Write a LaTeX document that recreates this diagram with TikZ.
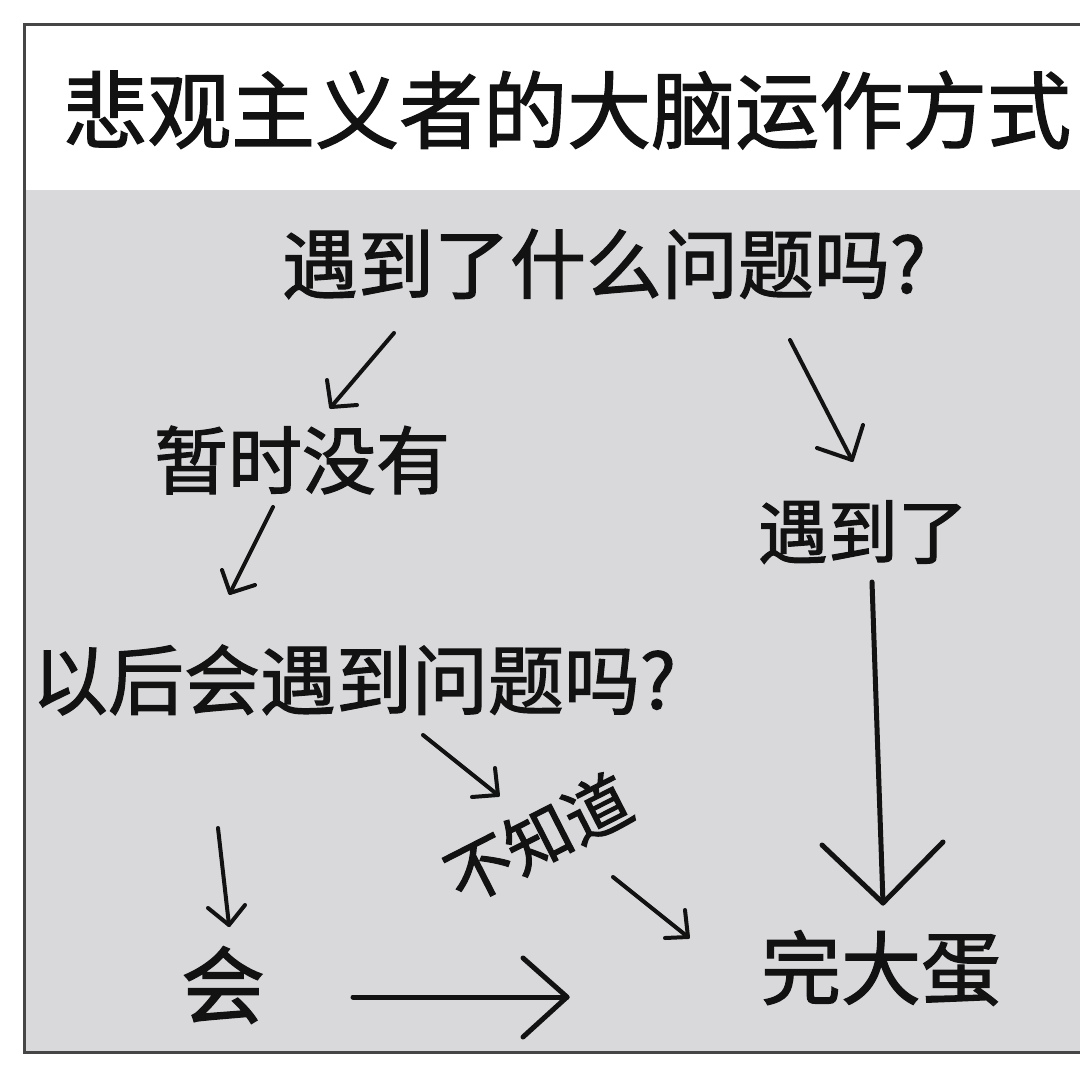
\documentclass[tikz,border=0pt]{standalone}
\usepackage{fontspec}
\newfontfamily\cjk[FakeBold=1.6]{Noto Sans CJK SC}
\definecolor{bggray}{RGB}{217,217,220}
\definecolor{framecol}{RGB}{70,70,70}
\definecolor{ink}{RGB}{18,18,18}
\begin{document}
\begin{tikzpicture}[x=1pt,y=-1pt,
  lbl/.style={font=\cjk\fontsize{#1}{#1}\selectfont, text=ink, inner sep=0pt},
  arr/.style={draw=ink, line width=4pt, line cap=round, line join=round},
  bigarr/.style={arr, line width=5pt}]
\useasboundingbox (0,0) rectangle (1080,1080);
\fill[white] (0,0) rectangle (1080,1080);
\fill[bggray] (24,190) rectangle (1080,1052);
\draw[framecol, line width=3pt] (1090,24) -- (24,24) -- (24,1052) -- (1090,1052);

% texts
\node[lbl=84, anchor=west] (title) at (63,110) {悲观主义者的大脑运作方式};
\node[lbl=76] (q1) at (604,264) {遇到了什么问题吗?};
\node[lbl=74] (no) at (302,460) {暂时没有};
\node[lbl=70] (yes) at (863,532) {遇到了};
\node[lbl=76] (q2) at (354,680) {以后会遇到问题吗?};
\node[lbl=66, rotate=27] (dunno) at (538,838) {不知道};
\node[lbl=84] (will) at (223,985) {会};
\node[lbl=80] (doom) at (881,968) {完大蛋};

% arrow 1: q1 -> no
\coordinate (a1s) at (394,333); \coordinate (a1t) at (331,407);
\coordinate (a1l) at (327,380); \coordinate (a1r) at (357,405);
\draw[arr] (a1s) -- (a1t); \draw[arr] (a1l) -- (a1t) -- (a1r);
% arrow 2: q1 -> yes
\coordinate (a2s) at (790,340); \coordinate (a2t) at (852,460);
\coordinate (a2l) at (817,448); \coordinate (a2r) at (863,425);
\draw[arr] (a2s) -- (a2t); \draw[arr] (a2l) -- (a2t) -- (a2r);
% arrow 3: no -> q2
\coordinate (a3s) at (273,507); \coordinate (a3t) at (230,593);
\coordinate (a3l) at (222,570); \coordinate (a3r) at (255,585);
\draw[arr] (a3s) -- (a3t); \draw[arr] (a3l) -- (a3t) -- (a3r);
% arrow 4: q2 -> dunno
\coordinate (a4s) at (423,735); \coordinate (a4t) at (498,795);
\coordinate (a4l) at (472,797); \coordinate (a4r) at (495,768);
\draw[arr] (a4s) -- (a4t); \draw[arr] (a4l) -- (a4t) -- (a4r);
% arrow 5: dunno -> doom
\coordinate (a5s) at (613,877); \coordinate (a5t) at (688,937);
\coordinate (a5l) at (665,938); \coordinate (a5r) at (685,910);
\draw[arr] (a5s) -- (a5t); \draw[arr] (a5l) -- (a5t) -- (a5r);
% arrow 6: q2 -> will
\coordinate (a6s) at (218,828); \coordinate (a6t) at (229,925);
\coordinate (a6l) at (208,908); \coordinate (a6r) at (245,905);
\draw[arr] (a6s) -- (a6t); \draw[arr] (a6l) -- (a6t) -- (a6r);
% arrow 7: will -> doom
\coordinate (a7s) at (353,997); \coordinate (a7t) at (567,997);
\coordinate (a7l) at (523,958); \coordinate (a7r) at (523,1037);
\draw[bigarr] (a7s) -- (a7t); \draw[bigarr] (a7l) -- (a7t) -- (a7r);
% arrow 8: yes -> doom
\coordinate (a8s) at (872,582); \coordinate (a8t) at (883,903);
\coordinate (a8l) at (822,845); \coordinate (a8r) at (943,842);
\draw[bigarr] (a8s) -- (a8t); \draw[bigarr] (a8l) -- (a8t) -- (a8r);
\end{tikzpicture}
\end{document}
